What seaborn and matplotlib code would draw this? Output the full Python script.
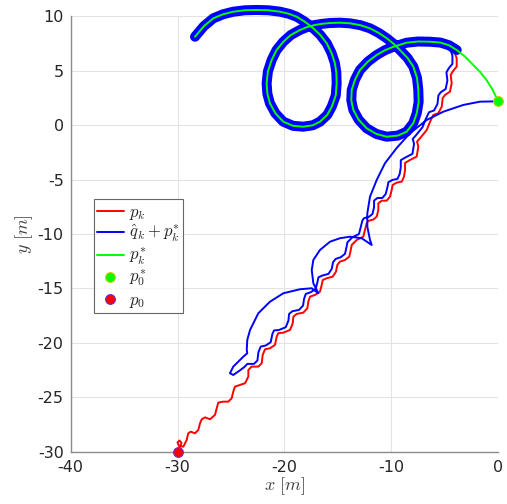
import matplotlib
matplotlib.use("Agg")
import matplotlib.pyplot as plt
from matplotlib.lines import Line2D
import seaborn as sns

# reference trajectory p*_k (starts at p*_0, ends at the far left)
pstar_x = [0.0, -0.55, -1.1, -1.7, -2.34, -3.1, -3.89, -4.6, -5.4, -6.39, -7.5, -8.57,
           -9.85, -10.6, -11.38, -12.2, -12.94, -13.4, -13.71, -13.75, -13.56, -13.05,
           -12.31, -11.4, -10.44, -9.4, -8.57, -7.95, -7.63, -7.45, -7.48, -7.6,
           -7.95, -8.5, -9.2, -9.8, -10.44, -11.2, -12.0, -12.9, -13.87, -14.8,
           -15.74, -16.5, -17.15, -17.9, -18.55, -19.4, -20.11, -20.75, -21.2, -21.55,
           -21.67, -21.6, -21.36, -20.85, -20.11, -19.2, -18.24, -17.35, -16.68, -16.0,
           -15.58, -15.2, -15.12, -15.15, -15.28, -15.6, -16.05, -16.65, -17.33, -18.1,
           -18.86, -19.6, -20.42, -21.5, -22.6, -23.7, -24.79, -25.75, -26.66, -27.55,
           -28.37]
pstar_y = [2.2, 3.3, 4.16, 4.9, 5.54, 6.3, 6.92, 7.35, 7.6, 7.68, 7.7, 7.59,
           7.2, 6.9, 6.46, 5.85, 5.08, 4.2, 3.24, 2.3, 1.41, 0.5,
           -0.28, -0.8, -1.05, -0.95, -0.59, 0.2, 1.1, 2.15, 3.24, 4.35,
           5.39, 6.2, 6.92, 7.5, 8.0, 8.5, 8.91, 9.2, 9.37, 9.43,
           9.4, 9.32, 9.22, 9.02, 8.76, 8.3, 7.68, 6.9, 6.0, 4.95,
           3.86, 2.9, 2.02, 1.1, 0.33, -0.05, -0.13, 0.0, 0.33, 0.95,
           1.71, 2.75, 3.86, 4.85, 5.7, 6.65, 7.54, 8.3, 8.94, 9.52,
           9.98, 10.25, 10.44, 10.57, 10.6, 10.57, 10.44, 10.2, 9.83, 9.1,
           8.14]

# actual position p_k, climbing from p_0 before it joins the reference
pk_x = [-30.02, -29.84, -29.63, -29.82, -30.01, -29.87, -29.46, -29.15, -29.0, -28.77,
        -28.37, -28.06, -27.9, -27.74, -27.43, -26.97, -26.5, -26.34, -26.19, -25.72,
        -25.25, -24.94, -24.79, -24.63, -24.16, -23.69, -23.38, -23.38, -23.07, -22.45,
        -22.13, -22.04, -21.82, -21.35, -20.89, -20.73, -20.58, -20.11, -19.48, -19.23,
        -19.17, -18.86, -18.24, -17.86, -17.77, -17.61, -17.14, -16.68, -16.52, -16.42,
        -16.05, -15.49, -15.18, -15.06, -14.81, -14.34, -13.94, -13.8, -13.71, -13.24,
        -12.63, -12.47, -12.31, -12.16, -11.69, -11.37, -11.22, -11.22, -10.9, -10.44,
        -10.13, -9.97, -9.88, -9.5, -9.03, -8.82, -8.72, -8.72, -8.26, -7.63,
        -7.48, -7.6, -7.32, -6.69, -6.39, -6.08, -5.61, -5.29, -5.2, -4.98,
        -4.52, -4.36, -4.45, -4.21, -3.89, -3.89, -4.05, -4.05]
pk_y = [-30.09, -29.68, -29.2, -28.97, -29.15, -29.47, -29.54, -28.92, -28.31, -28.16,
        -28.31, -28.0, -27.39, -27.02, -26.84, -27.02, -26.62, -26.01, -25.49, -25.4,
        -25.4, -25.09, -24.48, -24.02, -23.87, -23.71, -23.1, -22.49, -22.18, -22.18,
        -21.87, -21.11, -20.59, -20.49, -20.19, -19.43, -19.11, -19.06, -18.81, -18.2,
        -17.59, -17.34, -17.22, -16.82, -16.21, -15.75, -15.59, -15.29, -14.68, -14.22,
        -14.06, -13.91, -13.45, -12.84, -12.53, -12.38, -12.07, -11.46, -11.0, -10.54,
        -10.24, -9.62, -9.0, -8.79, -8.66, -8.4, -7.78, -7.17, -6.93, -6.93,
        -6.56, -5.94, -5.48, -5.27, -5.18, -4.72, -4.11, -3.46, -3.19, -2.88,
        -1.96, -1.5, -1.19, -0.43, 0.31, 0.95, 1.11, 1.71, 2.49, 2.79,
        3.09, 3.86, 4.63, 5.02, 5.39, 6.16, 6.62, 7.2]

# estimate q_hat_k + p*_k: transient arcs, then tracking p_k
qhat_x = [0.0, -1.71, -3.27, -5.14, -6.69, -8.26, -9.5, -10.6, -11.37, -12.0,
          -12.25, -12.25, -12.0, -11.84, -12.78, -13.87, -14.81, -15.74, -16.68, -17.3,
          -17.45, -17.3, -16.83, -17.45, -18.55, -20.11, -21.35, -22.45, -23.07, -23.22,
          -23.48, -23.53, -23.48, -23.85, -24.32, -24.79, -25.1, -24.79, -24.2,
          -23.78, -23.47, -22.85, -22.53, -22.44, -22.22, -21.75, -21.29, -21.13, -20.98,
          -20.51, -19.88, -19.63, -19.57, -19.26, -18.64, -18.26, -18.17, -18.01, -17.54,
          -17.08, -16.92, -16.82, -16.45, -15.89, -15.58, -15.46, -15.21, -14.74, -14.34,
          -14.2, -14.11, -13.64, -13.03, -12.87, -12.71, -12.56, -12.09, -11.77, -11.62,
          -11.62, -11.3, -10.84, -10.53, -10.37, -10.28, -9.9, -9.43, -9.22, -9.12,
          -9.12, -8.66, -8.03, -7.88, -8.0, -7.72, -7.09, -6.79, -6.48, -6.01,
          -5.69, -5.6, -5.38, -4.92, -4.76, -4.85, -4.61, -4.29, -4.29, -4.45]
qhat_y = [2.2, 2.17, 1.87, 1.25, 0.49, -0.73, -2.08, -3.49, -5.02, -6.56,
          -8.09, -9.32, -10.54, -11.0, -10.38, -10.24, -10.38, -10.7, -11.46, -12.38,
          -13.3, -14.52, -15.44, -14.98, -15.07, -15.44, -16.21, -17.28, -18.51, -18.81,
          -19.73, -20.65, -20.95, -21.27, -21.72, -22.18, -22.79, -22.95, -22.55,
          -22.24, -21.93, -21.93, -21.62, -20.86, -20.34, -20.24, -19.94, -19.18, -18.86,
          -18.81, -18.56, -17.95, -17.34, -17.09, -16.97, -16.57, -15.96, -15.5, -15.34,
          -15.04, -14.43, -13.97, -13.81, -13.66, -13.2, -12.59, -12.28, -12.13, -11.82,
          -11.21, -10.75, -10.29, -9.99, -9.37, -8.75, -8.54, -8.41, -8.15, -7.53,
          -6.92, -6.68, -6.68, -6.31, -5.69, -5.23, -5.02, -4.93, -4.47, -3.86,
          -3.21, -2.94, -2.63, -1.71, -1.25, -0.94, -0.18, 0.56, 1.2, 1.36,
          1.96, 2.74, 3.04, 3.34, 4.11, 4.88, 5.27, 5.64, 6.41, 6.87]

p0_star = (0.0, 2.2)
p0 = (-30.0, -30.0)

JOIN = 7  # index in the reference where both curves merge into it

red = "#ff0000"
blue = "#0000ff"
green = "#00ff00"

sns.set_theme(style="whitegrid")
plt.rcParams["mathtext.fontset"] = "cm"
plt.rcParams["axes.unicode_minus"] = False
plt.rcParams["font.family"] = ["DejaVu Sans"]

fig = plt.figure(figsize=(5.07, 5.04), dpi=100)
ax = fig.add_axes([0.1394, 0.1038, 0.8434, 0.8635])

red_x = pk_x + pstar_x[JOIN:]
red_y = pk_y + pstar_y[JOIN:]
blue_x = qhat_x + pstar_x[JOIN:]
blue_y = qhat_y + pstar_y[JOIN:]

sns.lineplot(x=red_x, y=red_y, sort=False, estimator=None, color=red, lw=1.4,
             clip_on=False, ax=ax)
sns.lineplot(x=blue_x, y=blue_y, sort=False, estimator=None, color=blue, lw=1.4,
             clip_on=False, ax=ax)
# the converged part is drawn heavy
sns.lineplot(x=pstar_x[JOIN - 1:], y=pstar_y[JOIN - 1:], sort=False, estimator=None,
             color=blue, lw=7.2, solid_capstyle="round", clip_on=False, ax=ax)
ax.plot(pstar_x[JOIN - 1:], pstar_y[JOIN - 1:], color="#ff7070", lw=0.8,
        ls=(0, (1, 2)), clip_on=False)
sns.lineplot(x=pstar_x, y=pstar_y, sort=False, estimator=None, color=green, lw=1.4,
             clip_on=False, ax=ax)

ax.plot([p0_star[0]], [p0_star[1]], "o", ms=7, mfc=green, mec="#c8c800", mew=0.8,
        clip_on=False, zorder=5)
ax.plot([p0[0]], [p0[1]], "o", ms=7, mfc=red, mec="#6a2cc8", mew=0.8,
        clip_on=False, zorder=5)

ax.set_xlim(-40, 0)
ax.set_ylim(-30, 10)
ax.set_xticks([-40, -30, -20, -10, 0])
ax.set_yticks([-30, -25, -20, -15, -10, -5, 0, 5, 10])
ax.grid(True, color="#e3e3e3", lw=0.8)
ax.set_facecolor("white")
for side in ["top", "right"]:
    ax.spines[side].set_visible(False)
for side in ["left", "bottom"]:
    ax.spines[side].set_color("#8c8c8c")
    ax.spines[side].set_linewidth(1.0)
ax.tick_params(direction="in", length=3, color="#8c8c8c", labelsize=11.5,
               labelcolor="#262626")
ax.tick_params(axis="x", pad=6)
ax.tick_params(axis="y", pad=5)
ax.set_xlabel(r"$x\ [m]$", fontsize=13, color="#404040", labelpad=0)
ax.set_ylabel(r"$y\ [m]$", fontsize=13, color="#404040", labelpad=2)

handles = [
    Line2D([], [], color=red, lw=1.4),
    Line2D([], [], color=blue, lw=1.4),
    Line2D([], [], color=green, lw=1.4),
    Line2D([], [], ls="none", marker="o", ms=7, mfc=green, mec="#c8c800", mew=0.8),
    Line2D([], [], ls="none", marker="o", ms=7, mfc=red, mec="#6a2cc8", mew=0.8),
]
labels = [r"$p_k$", r"$\hat{q}_k + p_k^{*}$", r"$p_k^{*}$", r"$p_0^{*}$", r"$p_0$"]
leg = ax.legend(handles, labels, loc="upper left", bbox_to_anchor=(0.054, 0.58),
                fontsize=12, frameon=True, fancybox=False, handlelength=1.6,
                handletextpad=0.3, borderpad=0.2, labelspacing=0.08,
                borderaxespad=0)
leg.get_frame().set_edgecolor("#404040")
leg.get_frame().set_linewidth(0.8)

fig.savefig("out.png", dpi=100)
